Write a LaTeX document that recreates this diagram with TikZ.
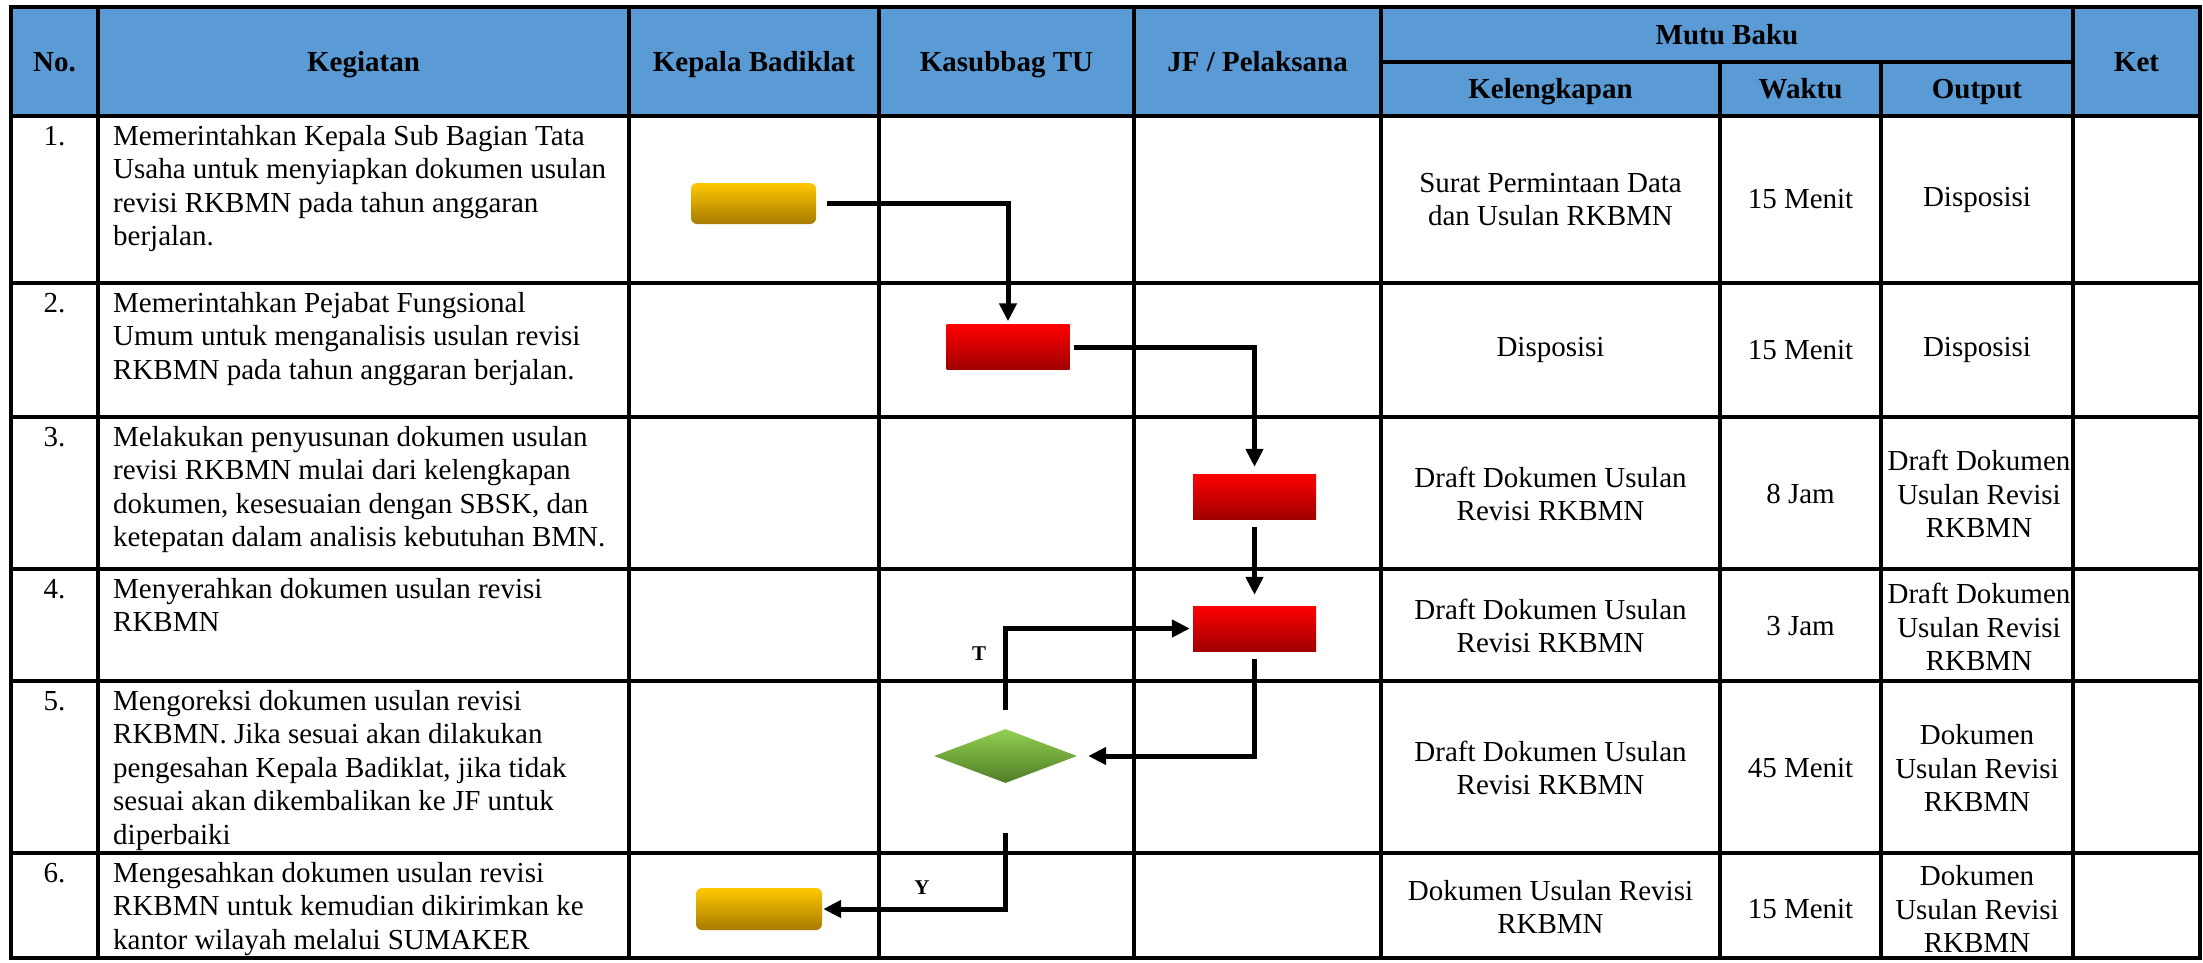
\documentclass[tikz,border=0pt]{standalone}
\usepackage{fontspec}
\setmainfont{Liberation Serif}
\usetikzlibrary{shapes.geometric,arrows.meta}
\definecolor{hdrblue}{RGB}{91,155,213}
\definecolor{goldtop}{RGB}{255,200,0}
\definecolor{goldbot}{RGB}{166,122,0}
\definecolor{redtop}{RGB}{255,0,0}
\definecolor{redbot}{RGB}{160,0,0}
\definecolor{grntop}{RGB}{146,208,80}
\definecolor{grnbot}{RGB}{80,125,40}
\newcommand\bodyfnt{\fontsize{29}{33.4}\selectfont}
\newcommand\hdrfnt{\fontsize{29}{33.4}\selectfont\bfseries}
\newcommand\lblfnt{\fontsize{21}{24}\selectfont\bfseries}
\begin{document}
\begin{tikzpicture}[x=1pt,y=-1pt,
  grid/.style={line width=3.2pt,black},
  hdr/.style={font=\hdrfnt,inner sep=0pt,text height=19.5pt,text depth=0pt},
  cell/.style={font=\bodyfnt,inner sep=0pt,align=center},
  keg/.style={font=\bodyfnt,inner sep=0pt,align=left,anchor=north west},
  num/.style={font=\bodyfnt,inner sep=0pt,anchor=base},
  startend/.style={rounded corners=6pt,top color=goldtop,bottom color=goldbot,minimum width=125pt,minimum height=41pt,inner sep=0pt},
  proc/.style={top color=redtop,bottom color=redbot,minimum width=123pt,minimum height=45pt,inner sep=0pt},
  dec/.style={diamond,aspect=2.65,top color=grntop,bottom color=grnbot,minimum width=143pt,minimum height=54pt,inner sep=0pt},
  arr/.style={line width=5pt,black,-{Triangle[length=18pt,width=17pt]}},
  lbl/.style={font=\lblfnt,inner sep=0pt}]
\useasboundingbox (0,0) rectangle (2203,962);
% header background
\fill[hdrblue] (11,7) rectangle (2200,116);
% grid
\draw[grid] (11,7) rectangle (2200,958);
\foreach \yy in {116,283,417,569,681,853} {\draw[grid] (11,\yy) -- (2200,\yy);}
\draw[grid] (1381,62) -- (2073,62);
\foreach \xx in {98,629,879,1134,1381,2073} {\draw[grid] (\xx,7) -- (\xx,958);}
\foreach \xx in {1720,1881} {\draw[grid] (\xx,62) -- (\xx,958);}
% header text
\node[hdr] (hNo) at (54.5,62) {No.};
\node[hdr] (hKeg) at (363.5,62) {Kegiatan};
\node[hdr] (hKB) at (754,62) {Kepala Badiklat};
\node[hdr] (hKT) at (1006.5,62) {Kasubbag TU};
\node[hdr] (hJF) at (1257.5,62) {JF / Pelaksana};
\node[hdr] (hMB) at (1727,34.5) {Mutu Baku};
\node[hdr] (hKel) at (1550.5,89) {Kelengkapan};
\node[hdr] (hW) at (1800.5,89) {Waktu};
\node[hdr] (hO) at (1977,89) {Output};
\node[hdr] (hKet) at (2136.5,62) {Ket};
% numbers
\node[num] (n1) at (54.5,145.5) {1.};
\node[num] (n2) at (54.5,312.5) {2.};
\node[num] (n3) at (54.5,446.5) {3.};
\node[num] (n4) at (54.5,598.5) {4.};
\node[num] (n5) at (54.5,710.5) {5.};
\node[num] (n6) at (54.5,882.5) {6.};
% kegiatan
\node[keg] (k1) at (113,122) {\strut Memerintahkan Kepala Sub Bagian Tata\\Usaha untuk menyiapkan dokumen usulan\\revisi RKBMN pada tahun anggaran\\berjalan.};
\node[keg] (k2) at (113,289) {\strut Memerintahkan Pejabat Fungsional\\Umum untuk menganalisis usulan revisi\\RKBMN pada tahun anggaran berjalan.};
\node[keg] (k3) at (113,423) {\strut Melakukan penyusunan dokumen usulan\\revisi RKBMN mulai dari kelengkapan\\dokumen, kesesuaian dengan SBSK, dan\\ketepatan dalam analisis kebutuhan BMN.};
\node[keg] (k4) at (113,575) {\strut Menyerahkan dokumen usulan revisi\\RKBMN};
\node[keg] (k5) at (113,687) {\strut Mengoreksi dokumen usulan revisi\\RKBMN. Jika sesuai akan dilakukan\\pengesahan Kepala Badiklat, jika tidak\\sesuai akan dikembalikan ke JF untuk\\diperbaiki};
\node[keg] (k6) at (113,859) {\strut Mengesahkan dokumen usulan revisi\\RKBMN untuk kemudian dikirimkan ke\\kantor wilayah melalui SUMAKER};
% mutu baku cells
\node[cell] (c1a) at (1550.5,199.5) {Surat Permintaan Data\\dan Usulan RKBMN};
\node[cell] (c1b) at (1800.5,199.5) {15 Menit};
\node[cell] (c1c) at (1977,199.5) {Disposisi};
\node[cell] (c2a) at (1550.5,350) {Disposisi};
\node[cell] (c2b) at (1800.5,350) {15 Menit};
\node[cell] (c2c) at (1977,350) {Disposisi};
\node[cell] (c3a) at (1550.5,494) {Draft Dokumen Usulan\\Revisi RKBMN};
\node[cell] (c3b) at (1800.5,494) {8 Jam};
\node[cell] (c3c) at (1979,494) {Draft Dokumen\\Usulan Revisi\\RKBMN};
\node[cell] (c4a) at (1550.5,626) {Draft Dokumen Usulan\\Revisi RKBMN};
\node[cell] (c4b) at (1800.5,626) {3 Jam};
\node[cell] (c4c) at (1979,627) {Draft Dokumen\\Usulan Revisi\\RKBMN};
\node[cell] (c5a) at (1550.5,768) {Draft Dokumen Usulan\\Revisi RKBMN};
\node[cell] (c5b) at (1800.5,768) {45 Menit};
\node[cell] (c5c) at (1977,768) {Dokumen\\Usulan Revisi\\RKBMN};
\node[cell] (c6a) at (1550.5,907) {Dokumen Usulan Revisi\\RKBMN};
\node[cell] (c6b) at (1800.5,909) {15 Menit};
\node[cell] (c6c) at (1977,909) {Dokumen\\Usulan Revisi\\RKBMN};
% flow shapes
\node[startend] (s1) at (753.5,203.5) {};
\node[proc] (p2) at (1008,347) {};
\node[proc] (p3) at (1254.5,496.5) {};
\node[proc] (p4) at (1254.5,628.5) {};
\node[dec] (d5) at (1005.5,756) {};
\node[startend,minimum width=126pt,minimum height=42pt] (e6) at (759,909) {};
% connectors
\draw[arr,shorten <=11pt,shorten >=3pt] (s1.east) -| (p2.north);
\draw[arr,shorten <=4pt,shorten >=7pt] (p2.east) -| (p3.north);
\draw[arr,shorten <=8pt,shorten >=11pt] (p3.south) -- (p4.north);
\draw[arr,shorten <=8pt,shorten >=11pt] (p4.south) |- (d5.east);
\draw[arr,shorten <=19pt,shorten >=3pt] (d5.north) |- (p4.west);
\draw[arr,shorten <=50pt,shorten >=1pt] (d5.south) |- (e6.east);
\node[lbl] (lT) at (979,654) {T};
\node[lbl] (lY) at (922,888) {Y};
\end{tikzpicture}
\end{document}
